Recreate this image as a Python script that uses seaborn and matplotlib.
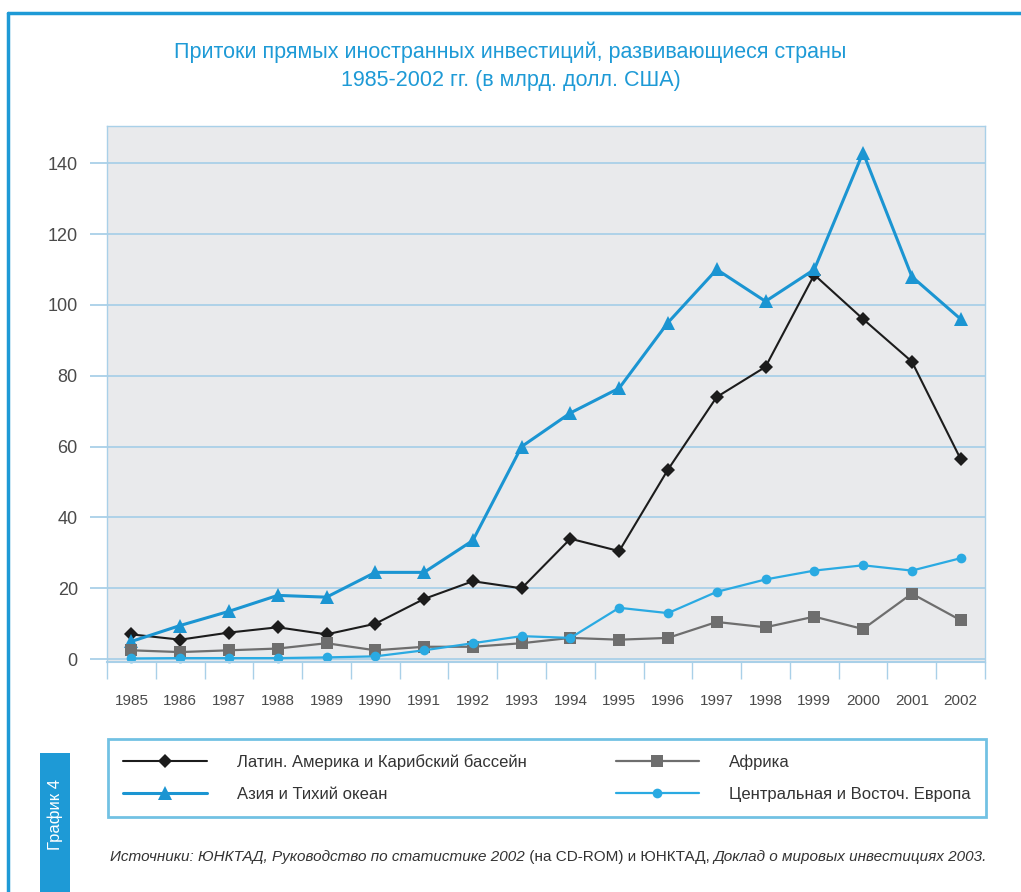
#!/usr/bin/env python3
"""FDI inflows to developing regions, 1985-2002 (line chart)."""

import matplotlib
matplotlib.use("Agg")
import matplotlib.pyplot as plt
import pandas as pd
import seaborn as sns
from matplotlib.lines import Line2D
from matplotlib.patches import Rectangle

YEARS = list(range(1985, 2003))
LATIN = [7, 5.5, 7.5, 9, 7, 10, 17, 22, 20, 34, 30.5, 53.5, 74, 82.5, 108.5, 96, 84, 56.5]
ASIA = [5, 9.5, 13.5, 18, 17.5, 24.5, 24.5, 33.5, 60, 69.5, 76.5, 95, 110, 101, 110, 143, 108, 96]
AFRICA = [2.5, 2, 2.5, 3, 4.5, 2.5, 3.5, 3.5, 4.5, 6, 5.5, 6, 10.5, 9, 12, 8.5, 18.5, 11]
CEE = [0.2, 0.3, 0.3, 0.3, 0.5, 0.8, 2.5, 4.5, 6.5, 6, 14.5, 13, 19, 22.5, 25, 26.5, 25, 28.5]

SERIES = {
    "Латин. Америка и Карибский бассейн": LATIN,
    "Азия и Тихий океан": ASIA,
    "Африка": AFRICA,
    "Центральная и Восточ. Европа": CEE,
}
COLORS = ["#1c1c1c", "#1b95d2", "#6e6e6e", "#2aaae2"]
MARKERS = ["D", "^", "s", "o"]
MSIZES = [7, 10, 8, 7]
LWIDTHS = [1.5, 2.2, 1.6, 1.6]

TITLE = "Притоки прямых иностранных инвестиций, развивающиеся страны\n1985-2002 гг. (в млрд. долл. США)"
SIDE = "График 4"

BLUE = "#1e9ad6"
GRID = "#a9d0e8"
FONTS = ["Liberation Sans Narrow", "Liberation Sans", "DejaVu Sans"]


def main():
    sns.set_theme(style="white")
    plt.rcParams["font.family"] = FONTS

    rows = []
    for name, vals in SERIES.items():
        for i, v in enumerate(vals):
            rows.append({"idx": i, "val": v, "series": name})
    df = pd.DataFrame(rows)
    names = list(SERIES)

    fig = plt.figure(figsize=(10.21, 8.92), dpi=100)
    ax = fig.add_axes([107 / 1021, 1 - 662 / 892, 878 / 1021, 536 / 892])
    ax.set_facecolor("#e9eaec")

    sns.lineplot(
        data=df, x="idx", y="val", hue="series", style="series",
        palette=dict(zip(names, COLORS)), markers=dict(zip(names, MARKERS)),
        dashes=False, ax=ax, legend=False, markeredgewidth=0,
    )
    for line, ms, lw in zip(ax.lines, MSIZES, LWIDTHS):
        line.set_markersize(ms)
        line.set_linewidth(lw)
        line.set_clip_on(False)

    ax.set_xlim(-0.5, len(YEARS) - 0.5)
    ax.set_ylim(-0.8, 150.5)
    ax.set_yticks(range(0, 141, 20))
    ax.set_xticks(range(len(YEARS)))
    ax.set_xticklabels(YEARS)
    ax.set_xticks([i - 0.5 for i in range(len(YEARS) + 1)], minor=True)
    ax.yaxis.grid(True, color=GRID, linewidth=1.3)
    ax.set_axisbelow(True)
    ax.set_xlabel("")
    ax.set_ylabel("")

    for side in ["top", "left", "right"]:
        ax.spines[side].set_color(GRID)
        ax.spines[side].set_linewidth(1)
    ax.spines["bottom"].set_color(GRID)
    ax.spines["bottom"].set_linewidth(1.5)

    ax.tick_params(axis="y", left=True, length=12, width=1.3, color=GRID,
                   labelsize=13, labelcolor="#4a4a4a", pad=9)
    ax.tick_params(axis="x", which="major", bottom=False, labelsize=11,
                   labelcolor="#4a4a4a", pad=17)
    ax.tick_params(axis="x", which="minor", bottom=True, length=12, width=1, color=GRID)
    for lbl in ax.get_yticklabels():
        lbl.set_family(["Liberation Sans", "DejaVu Sans"])

    fig.text(0.5, 1 - 66 / 892, TITLE, ha="center", va="center", color=BLUE,
             fontsize=15.5, linespacing=1.45)

    handles = [
        Line2D([], [], color=c, marker=m, markersize=ms, linewidth=lw, markeredgewidth=0)
        for c, m, ms, lw in zip(COLORS, MARKERS, MSIZES, LWIDTHS)
    ]
    leg = fig.legend(
        handles, names, ncol=2, loc="center", mode="expand",
        bbox_to_anchor=(100 / 1021, 1 - 820 / 892, 894 / 1021, 84 / 892),
        fontsize=12, handlelength=5, handletextpad=1.8, borderpad=0.9,
        labelspacing=1.0, frameon=True, fancybox=False,
    )
    leg.get_frame().set_edgecolor("#4fb2dc")
    leg.get_frame().set_linewidth(2)
    for t in leg.get_texts():
        t.set_color("#333333")

    # source line: italic and upright pieces chained one after another
    parts = [
        ("Источники: ЮНКТАД, ", "italic"),
        ("Руководство по статистике 2002", "italic"),
        (" (на CD-ROM) и ЮНКТАД, ", "normal"),
        ("Доклад о мировых инвестициях 2003.", "italic"),
    ]
    prev = fig.text(110 / 1021, 1 - 857 / 892, parts[0][0], ha="left", va="center",
                    fontsize=11, style=parts[0][1], color="#333333")
    for txt, st in parts[1:]:
        prev = plt.annotate(txt, xy=(1, 0), xycoords=prev, ha="left", va="bottom",
                            fontsize=11, style=st, color="#333333", annotation_clip=False)

    # outer frame and side tab
    fig.add_artist(Line2D([8 / 1021, 1], [1 - 13 / 892, 1 - 13 / 892], color=BLUE, linewidth=2.5))
    fig.add_artist(Line2D([8 / 1021, 8 / 1021], [0, 1 - 13 / 892], color=BLUE, linewidth=2.5))
    fig.add_artist(Rectangle((40 / 1021, 0), 30 / 1021, (892 - 753) / 892,
                             transform=fig.transFigure, color=BLUE, linewidth=0))
    fig.text(55 / 1021, 1 - 815 / 892, SIDE, rotation=90, ha="center", va="center",
             color="white", fontsize=12)

    fig.savefig("out.png", dpi=100, facecolor="white")
    plt.close(fig)


if __name__ == "__main__":
    main()
